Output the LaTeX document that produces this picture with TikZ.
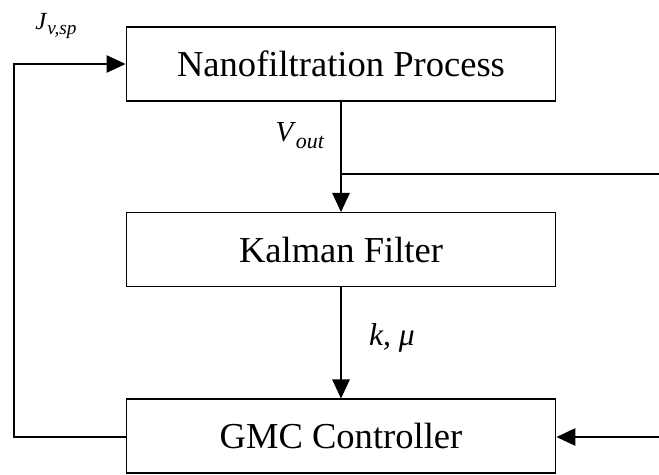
\documentclass[tikz,border=0pt]{standalone}
\usepackage{fontspec}
\setmainfont{Liberation Serif}
\usetikzlibrary{arrows.meta}
\begin{document}
\begin{tikzpicture}[x = 0.02cm, y = -0.02cm, line width = 0.6pt,
        block/.style = {draw, minimum width = 8.6cm, minimum height = 1.48cm, font = \fontsize{20.8}{25}\selectfont},
        arr/.style = {-{Triangle[length = 0.38cm, width = 0.35cm]}}]
                \useasboundingbox (0, 0) rectangle (659, 474);
                \node[block] (nano) at (341, 64) {Nanofiltration Process};
                \node[block] (kalman) at (341, 249.5) {Kalman Filter};
                \node[block] (gmc) at (341, 436) {GMC Controller};

                \node[font = \fontsize{14}{17}\selectfont] (jv) at (56, 26)
                    {\textit{J}\raisebox{-3pt}{\fontsize{11}{13}\selectfont\textit{v,sp}}};
                \node[font = \fontsize{16.5}{20}\selectfont] (vout) at (300, 136)
                    {\textit{V}\raisebox{-4pt}{\fontsize{12.5}{15}\selectfont\textit{out}}};
                \node[font = \fontsize{18}{21}\selectfont] (kmu) at (392, 338) {\textit{k, μ}};

                \coordinate (tap) at (341, 174);
                \coordinate (outR) at (659, 174);
                \coordinate (inR) at (659, 437);
                \coordinate (lft) at (14, 437);

                \draw[arr] (nano) to (kalman);
                \draw[arr] (kalman) to (gmc);
                \draw (tap) to (outR);
                \draw[arr] (inR) to (gmc.east |- inR);
                \draw[arr] (gmc.west |- lft) -- (lft) |- (nano.west);
            \end{tikzpicture}
\end{document}
